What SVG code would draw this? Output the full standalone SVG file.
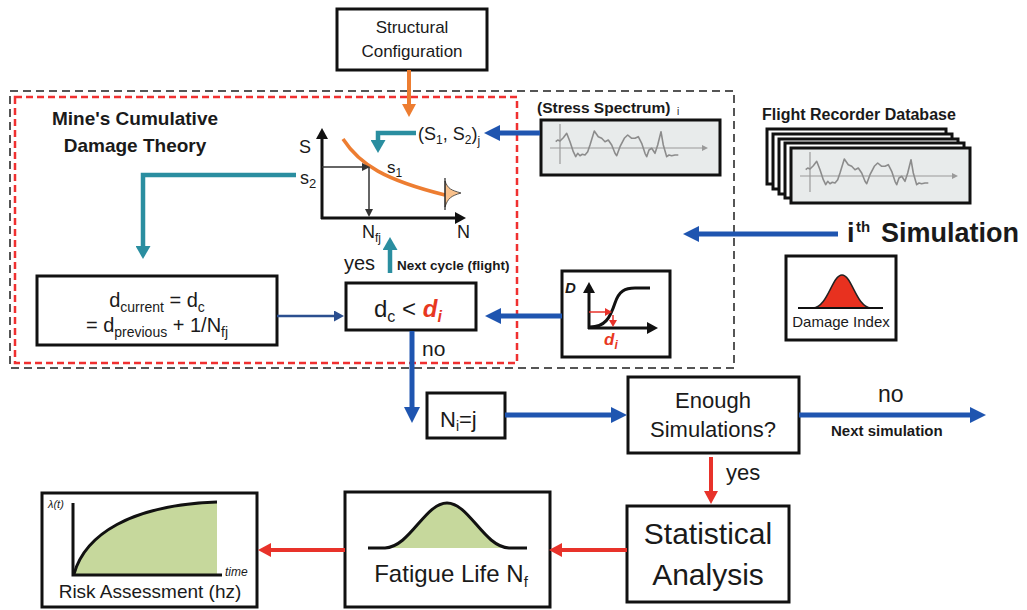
<svg xmlns="http://www.w3.org/2000/svg" xmlns:xlink="http://www.w3.org/1999/xlink" width="1027" height="610" viewBox="0 0 1027 610">
  <style>
    text { font-family: "Liberation Sans", Arial, sans-serif; fill: #1a1a1a; }
    .box { fill: #ffffff; stroke: #111; stroke-width: 3; }
    .card { fill: #e8ebeb; stroke: #111; stroke-width: 3; }
    .bold { font-weight: bold; }
    .c { text-anchor: middle; }
    .red { fill: #e8381f; }
    .blue { fill: none; stroke: #1f55b0; stroke-width: 5; marker-end: url(#ah-blue); }
    .navy { fill: none; stroke: #2b4f8f; stroke-width: 2.5; marker-end: url(#ah-navy); }
    .teal { fill: none; stroke: #2a8ea0; stroke-width: 4.5; marker-end: url(#ah-teal); }
    .redl { fill: none; stroke: #e8322a; stroke-width: 4; marker-end: url(#ah-red); }
    .orng { fill: none; stroke: #ed7d31; stroke-width: 4; marker-end: url(#ah-orange); }
    .axis { fill: none; stroke: #111; stroke-width: 3; }
    .axisA { fill: none; stroke: #111; stroke-width: 3; marker-end: url(#ah-axis); }
    .thin { fill: none; stroke: #333; stroke-width: 1.5; marker-end: url(#ah-thin); }
    .redsm { fill: none; stroke: #e8322a; stroke-width: 1.5; marker-end: url(#ah-redsm); }
    .gaxis { fill: none; stroke: #9a9a9a; stroke-width: 1.2; }
    .trace { fill: none; stroke: #8c8c8c; stroke-width: 1.6; stroke-linejoin: round; }
  </style>
  <defs>
    <marker id="ah-blue" markerUnits="userSpaceOnUse" viewBox="0 0 16 16" markerWidth="16" markerHeight="16" refX="4" refY="8" orient="auto">
      <path d="M0,0 L16,8 L0,16 z" fill="#1f55b0"/>
    </marker>
    <marker id="ah-navy" markerUnits="userSpaceOnUse" viewBox="0 0 10 11" markerWidth="10" markerHeight="11" refX="2" refY="5.5" orient="auto">
      <path d="M0,0 L10,5.5 L0,11 z" fill="#2b4f8f"/>
    </marker>
    <marker id="ah-teal" markerUnits="userSpaceOnUse" viewBox="0 0 13 15" markerWidth="13" markerHeight="15" refX="3" refY="7.5" orient="auto">
      <path d="M0,0 L13,7.5 L0,15 z" fill="#2a8ea0"/>
    </marker>
    <marker id="ah-red" markerUnits="userSpaceOnUse" viewBox="0 0 13 14" markerWidth="13" markerHeight="14" refX="3" refY="7" orient="auto">
      <path d="M0,0 L13,7 L0,14 z" fill="#e8322a"/>
    </marker>
    <marker id="ah-orange" markerUnits="userSpaceOnUse" viewBox="0 0 13 14" markerWidth="13" markerHeight="14" refX="3" refY="7" orient="auto">
      <path d="M0,0 L13,7 L0,14 z" fill="#ed7d31"/>
    </marker>
    <marker id="ah-axis" markerUnits="userSpaceOnUse" viewBox="0 0 11 12" markerWidth="11" markerHeight="12" refX="2" refY="6" orient="auto">
      <path d="M0,0 L11,6 L0,12 z" fill="#111"/>
    </marker>
    <marker id="ah-thin" markerUnits="userSpaceOnUse" viewBox="0 0 8 8" markerWidth="8" markerHeight="8" refX="1" refY="4" orient="auto">
      <path d="M0,0 L8,4 L0,8 z" fill="#333"/>
    </marker>
    <marker id="ah-redsm" markerUnits="userSpaceOnUse" viewBox="0 0 7 8" markerWidth="7" markerHeight="8" refX="1" refY="4" orient="auto">
      <path d="M0,0 L7,4 L0,8 z" fill="#e8322a"/>
    </marker>
    <marker id="ah-gray" markerUnits="userSpaceOnUse" viewBox="0 0 6 6" markerWidth="6" markerHeight="6" refX="1" refY="3" orient="auto">
      <path d="M0,0 L6,3 L0,6 z" fill="#9a9a9a"/>
    </marker>
    <!-- recorded stress trace, drawn relative to its card's top-left corner -->
    <g id="trace">
      <path class="gaxis" d="M19,44 V4"/>
      <path class="gaxis" d="M9,28 H162" marker-end="url(#ah-gray)"/>
      <polyline class="trace" points="14.7,21.7 16.7,20 19,21 22.3,17.7 25.7,13.3 29,21.7 32.3,31.7 34.7,36.7 36.7,33.3 39,35.7 41.3,34.3 44,35 46.7,31.7 49,25 53.3,11 57.3,16.7 60.7,18.3 64,21.7 67.3,20 70.7,25 74,33.3 75.7,35.7 79,26.7 83.3,18.3 86.7,15 90.7,18.3 94,18.3 97.3,16.7 100.7,23.3 104,33.3 105.7,36.7 108,30 110.7,28.3 114,33.3 116.7,25 120,11.7 122.3,25 125.7,36.7 128,35 130.7,35.7 134,35 137.3,35"/>
    </g>
  </defs>

  <rect width="1027" height="610" fill="#ffffff"/>

  <!-- simulation loop boundary and Miner's-rule sub-loop -->
  <g id="frames">
    <rect x="10" y="91" width="724" height="277" fill="none" stroke="#555" stroke-width="2" stroke-dasharray="8 5"/>
    <rect x="15" y="97" width="502" height="266" fill="none" stroke="#f03030" stroke-width="2.5" stroke-dasharray="7 4"/>
  </g>

  <g id="structural-configuration">
    <rect class="box" x="337" y="9" width="150" height="61"/>
    <text class="c" x="412" y="33" font-size="17">Structural</text>
    <text class="c" x="412" y="57" font-size="17">Configuration</text>
  </g>

  <g id="theory-title">
    <text class="c bold" x="135" y="125" font-size="19">Mine's Cumulative</text>
    <text class="c bold" x="135" y="152" font-size="19">Damage Theory</text>
  </g>

  <!-- S-N curve -->
  <g id="sn-curve">
    <path class="axisA" d="M322,219 V137"/>
    <path class="axisA" d="M321,218 H457"/>
    <path d="M343,139 C360,165 385,180 445,195" fill="none" stroke="#ed7d31" stroke-width="3.5"/>
    <path d="M445,181 C448,189 451,190 461,193 C451,196 448,198 445,207 Z" fill="#f9c18c" stroke="#333" stroke-width="0.8"/>
    <path d="M445,178 V210" stroke="#222" stroke-width="1.2"/>
    <path class="thin" d="M322,167 H363"/>
    <path class="thin" d="M369,167 V210"/>
    <text x="299" y="153" font-size="18">S</text>
    <text x="300" y="184" font-size="18">s<tspan font-size="13" dy="4">2</tspan></text>
    <text x="387" y="173" font-size="17">s<tspan font-size="12" dy="4">1</tspan></text>
    <text x="362" y="238" font-size="18">N<tspan font-size="12" dy="4">fj</tspan></text>
    <text x="457" y="238" font-size="18">N</text>
    <text x="418" y="140" font-size="18">(S<tspan font-size="12" dy="4">1</tspan><tspan dy="-4">, S</tspan><tspan font-size="12" dy="4">2</tspan><tspan dy="-4">)</tspan><tspan font-size="12" dy="5">j</tspan></text>
  </g>

  <g id="stress-spectrum">
    <text class="bold" x="537" y="113" font-size="15.5">(Stress Spectrum)</text>
    <text x="677" y="115" font-size="10">i</text>
    <rect class="card" x="541" y="120" width="179" height="55"/>
    <use xlink:href="#trace" href="#trace" x="541" y="120"/>
  </g>

  <g id="flight-recorder-database">
    <text class="bold" x="762" y="120" font-size="16">Flight Recorder Database</text>
    <rect class="box" x="767" y="129" width="179" height="55"/>
    <rect class="box" x="773" y="134" width="179" height="55"/>
    <rect class="box" x="779" y="139" width="179" height="55"/>
    <rect class="box" x="785" y="143" width="179" height="55"/>
    <rect class="card" x="791" y="148" width="179" height="55"/>
    <use xlink:href="#trace" href="#trace" x="791" y="148"/>
  </g>

  <g id="ith-simulation">
    <text class="bold" x="847" y="242" font-size="27">i<tspan x="856" y="232" font-size="15">th</tspan><tspan x="881" y="242" font-size="27">Simulation</tspan></text>
  </g>

  <g id="damage-index">
    <rect class="box" x="786" y="256" width="110" height="84"/>
    <path d="M813,308 C828,307 832,275 842,275 C852,275 856,307 871,308 Z" fill="#e8311f" stroke="#222" stroke-width="1.5"/>
    <path d="M798,308 H883" stroke="#111" stroke-width="2.2"/>
    <text class="c" x="841" y="327" font-size="15">Damage Index</text>
  </g>

  <g id="damage-threshold">
    <rect class="box" x="562" y="271" width="108" height="86"/>
    <text class="bold" x="565" y="293" font-size="15" font-style="italic">D</text>
    <path class="axisA" d="M589,329 V291"/>
    <path class="axisA" d="M588,328 H649"/>
    <path d="M590,327 C605,327 610,318 615,303 C619,291 625,288 635,288 L650,288" fill="none" stroke="#111" stroke-width="3"/>
    <path class="redsm" d="M589,312 H606"/>
    <path class="redsm" d="M613,315 V321"/>
    <text class="bold red" x="604" y="345" font-size="17" font-style="italic">d<tspan font-size="12" dy="4">i</tspan></text>
  </g>

  <g id="damage-update">
    <rect class="box" x="37" y="276" width="240" height="69"/>
    <text class="c" x="157" y="307" font-size="20">d<tspan font-size="14" dy="5">current</tspan><tspan dy="-5"> = d</tspan><tspan font-size="14" dy="5">c</tspan></text>
    <text class="c" x="157" y="332" font-size="20">= d<tspan font-size="14" dy="5">previous</tspan><tspan dy="-5"> + 1/N</tspan><tspan font-size="14" dy="5">fj</tspan></text>
  </g>

  <g id="damage-check">
    <rect class="box" x="346" y="283" width="130" height="47"/>
    <text x="374" y="317" font-size="24">d<tspan font-size="16" dy="5">c</tspan><tspan dy="-5"> &lt; </tspan><tspan class="bold red" font-style="italic">d</tspan><tspan class="bold red" font-style="italic" font-size="16" dy="5">i</tspan></text>
  </g>

  <g id="cycle-count">
    <rect class="box" x="427" y="393" width="78" height="45"/>
    <text x="440" y="427" font-size="22">N<tspan font-size="14" dy="4">i</tspan><tspan dy="-4">=j</tspan></text>
  </g>

  <g id="enough-simulations">
    <rect class="box" x="628" y="377" width="171" height="76"/>
    <text class="c" x="713" y="408" font-size="22">Enough</text>
    <text class="c" x="713" y="437" font-size="22">Simulations?</text>
  </g>

  <g id="statistical-analysis">
    <rect class="box" x="627" y="506" width="162" height="96"/>
    <text class="c" x="708" y="544" font-size="30">Statistical</text>
    <text class="c" x="708" y="585" font-size="30">Analysis</text>
  </g>

  <g id="fatigue-life">
    <rect class="box" x="345" y="492" width="205" height="115"/>
    <path d="M385,548 C410,547 425,503 447,503 C469,503 484,547 509,548 Z" fill="#c6d89c"/>
    <path d="M368,548 H385 C410,547 425,503 447,503 C469,503 484,547 509,548 H527" fill="none" stroke="#111" stroke-width="3"/>
    <text class="c" x="451" y="582" font-size="24">Fatigue Life N<tspan font-size="15" dy="5">f</tspan></text>
  </g>

  <g id="risk-assessment">
    <rect class="box" x="42" y="493" width="215" height="114"/>
    <path d="M74,574 C85,535 130,505 217,502 L217,575 L74,575 Z" fill="#c6d89c"/>
    <path d="M74,574 C85,535 130,505 217,502" fill="none" stroke="#111" stroke-width="3"/>
    <path class="axis" d="M73,503 V575 H222"/>
    <text x="48" y="508" font-size="11" font-style="italic">λ(t)</text>
    <text x="225" y="576" font-size="12" font-style="italic">time</text>
    <text class="c" x="150" y="598" font-size="19">Risk Assessment (hz)</text>
  </g>

  <!-- flow connectors and their labels -->
  <g id="connectors">
    <path class="orng" d="M409,70 V107"/>
    <path class="blue" d="M540,133 H496"/>
    <path class="teal" d="M416,133 H378 V143"/>
    <path class="teal" d="M296,175 H143 V249"/>
    <path class="teal" d="M390,273 V247"/>
    <path class="navy" d="M277,316 H336"/>
    <path class="blue" d="M562,316 H497"/>
    <path class="blue" d="M412,331 V411"/>
    <path class="blue" d="M505,415 H615"/>
    <path class="blue" d="M799,415 H974"/>
    <path class="blue" d="M838,234 H695"/>
    <path class="redl" d="M711,457 V494"/>
    <path class="redl" d="M627,550 H559"/>
    <path class="redl" d="M345,550 H268"/>
    <text x="344" y="270" font-size="20">yes</text>
    <text class="bold" x="397" y="270" font-size="13.5">Next cycle (flight)</text>
    <text x="422" y="356" font-size="21">no</text>
    <text x="878" y="402" font-size="23">no</text>
    <text class="bold" x="831" y="436" font-size="15">Next simulation</text>
    <text x="726" y="480" font-size="22">yes</text>
  </g>
</svg>
